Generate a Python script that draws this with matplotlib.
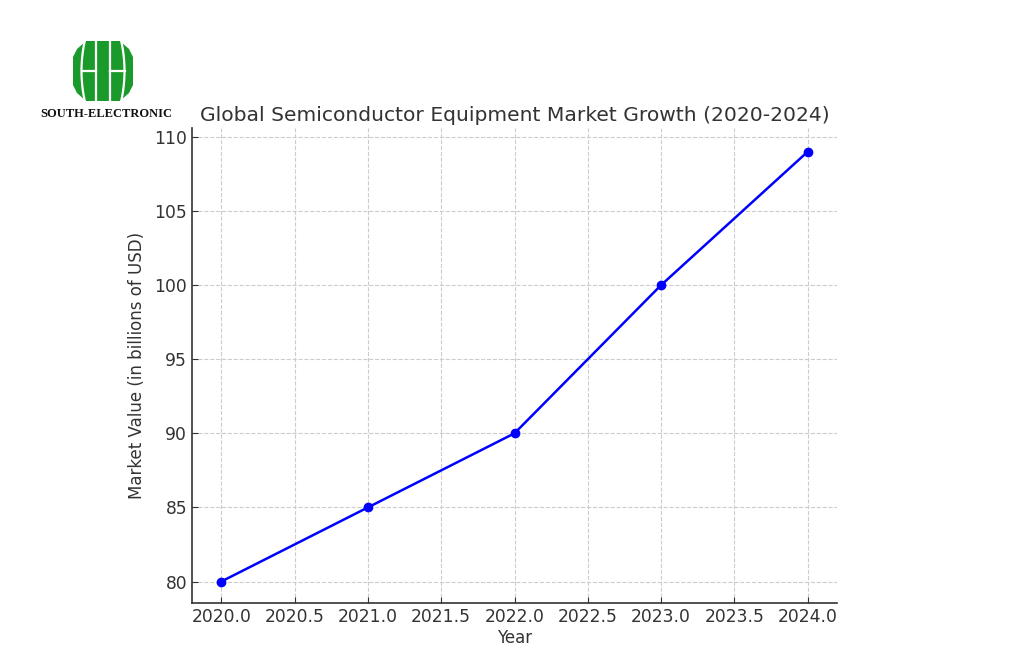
import matplotlib
matplotlib.use("Agg")
import matplotlib.pyplot as plt
import numpy as np
from matplotlib.patches import Polygon

years = [2020, 2021, 2022, 2023, 2024]
market_value = [80, 85, 90, 100, 109]
y_ticks = [80, 85, 90, 95, 100, 105, 110]
x_ticks = [2020.0, 2020.5, 2021.0, 2021.5, 2022.0, 2022.5, 2023.0, 2023.5, 2024.0]

plt.rcParams['font.family'] = ['DejaVu Sans']
txt = '#333333'

W, H = 1024, 652
fig = plt.figure(figsize=(W / 100, H / 100), dpi=100)
ax = fig.add_axes([192 / W, (H - 603) / H, (837 - 192) / W, (603 - 128) / H])

ax.plot(years, market_value, color='#0000ff', marker='o', markersize=6, linewidth=1.8)
ax.set_xticks(x_ticks)
ax.set_xticklabels([f"{v:.1f}" for v in x_ticks])
ax.set_yticks(y_ticks)
ax.set_xlim(2019.8, 2024.2)
ax.set_ylim(78.55, 110.6)
ax.grid(True, linestyle='--', color='#cccccc', linewidth=0.8)
ax.set_axisbelow(True)
for s in ['top', 'right']:
    ax.spines[s].set_visible(False)
for s in ['left', 'bottom']:
    ax.spines[s].set_color('#333333')
    ax.spines[s].set_linewidth(1.2)
ax.tick_params(direction='in', colors=txt, labelsize=12.3, length=4)
ax.set_title("Global Semiconductor Equipment Market Growth (2020-2024)", fontsize=14.6,
             color=txt, pad=5)
ax.set_xlabel("Year", fontsize=12, color=txt, labelpad=2)
ax.set_ylabel("Market Value (in billions of USD)", fontsize=12, color=txt, labelpad=6)

# logo
lax = fig.add_axes([73 / W, (H - 101) / H, 60 / W, 60 / H])
lax.set_xlim(0, 60)
lax.set_ylim(0, 60)
lax.axis('off')
g = '#1a9a2a'
octa = [(13, 60), (47, 60), (56, 52), (60, 44), (60, 16), (56, 8), (47, 0), (13, 0),
        (4, 8), (0, 16), (0, 44), (4, 52)]
lax.add_patch(Polygon(octa, closed=True, facecolor=g, edgecolor='none'))
yy = np.linspace(-1, 61, 60)
curve = 12 - 3.5 * (1 - ((yy - 30) / 31) ** 2)
lw = 1.6
lax.plot(curve, yy, color='white', lw=lw)
lax.plot(60 - curve, yy, color='white', lw=lw)
lax.plot([8.5, 23], [30, 30], color='white', lw=lw)
lax.plot([37, 51.5], [30, 30], color='white', lw=lw)
for xc in (23, 37):
    lax.plot([xc, xc], [-1, 61], color='white', lw=lw)

fig.text(106 / W, 1 - 114 / H, "SOUTH-ELECTRONIC", family=['Liberation Serif'],
         fontweight='bold', fontsize=9, ha='center', va='center', color='#111111')

fig.savefig("out.png", dpi=100)
